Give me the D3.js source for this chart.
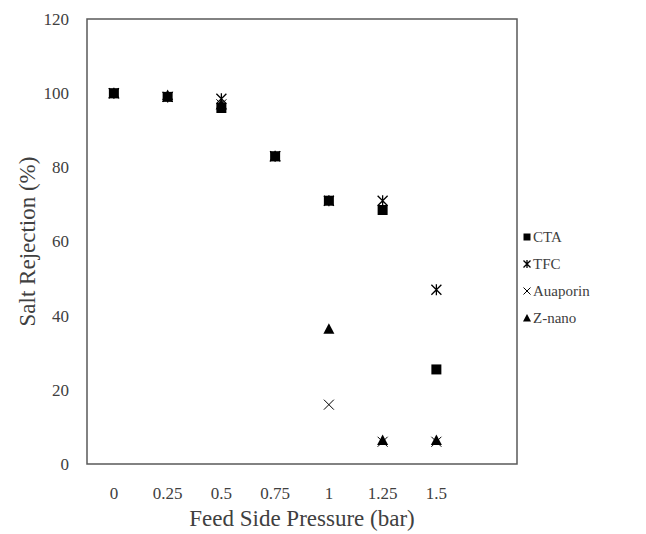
<!DOCTYPE html>
<html>
<head>
<meta charset="utf-8">
<script src="https://cdn.jsdelivr.net/npm/d3@7"></script>
<style>
  body { margin: 0; background: #fff; }
  svg { font-family: "Liberation Serif", "Times New Roman", serif; }
</style>
</head>
<body>
<div id="chart"></div>
<script>
// categories on the x axis (last slot is empty, like the Excel plot)
const pressures = ['0', '0.25', '0.5', '0.75', '1', '1.25', '1.5', ''];
const yTicks = [0, 20, 40, 60, 80, 100, 120];

const seriesNames = ['CTA', 'TFC', 'Auaporin', 'Z-nano'];
const ctaValues = [100, 99, 96, 83, 71, 68.5, 25.5];
const tfcValues = [100, 99, 98.5, 83, 71, 71, 47];
const auaporinValues = [100, 99, 97, 83, 16, 6, 6];
const znanoValues = [100, 99.5, 97, 83, 36.5, 6.5, 6.5];

const width = 646, height = 534;
const margin = {top: 19, right: 129, bottom: 70, left: 87};
const plotW = width - margin.left - margin.right;
const plotH = height - margin.top - margin.bottom;

const svg = d3.select('#chart').append('svg')
    .attr('width', width)
    .attr('height', height);

const g = svg.append('g')
    .attr('transform', 'translate(' + margin.left + ',' + margin.top + ')');

const xScale = d3.scaleBand().domain(pressures).range([0, plotW]);
const yScale = d3.scaleLinear().domain([0, 120]).range([plotH, 0]);

// marker shapes, drawn around (0,0)
function markerPath(type, s) {
    const h = s / 2;
    const p = d3.path();
    if (type === 'square') {
        p.rect(-h, -h, s, s);
    } else if (type === 'triangle') {
        p.moveTo(0, -h - 0.5); p.lineTo(h + 0.5, h); p.lineTo(-h - 0.5, h); p.closePath();
    } else if (type === 'star') {
        p.moveTo(-h, -h); p.lineTo(h, h);
        p.moveTo(h, -h); p.lineTo(-h, h);
        p.moveTo(0, -h - 0.5); p.lineTo(0, h + 0.5);
    } else {
        p.moveTo(-h, -h); p.lineTo(h, h);
        p.moveTo(h, -h); p.lineTo(-h, h);
    }
    return p.toString();
}

const series = [
    {name: seriesNames[0], values: ctaValues, shape: 'square'},
    {name: seriesNames[1], values: tfcValues, shape: 'star'},
    {name: seriesNames[2], values: auaporinValues, shape: 'cross'},
    {name: seriesNames[3], values: znanoValues, shape: 'triangle'}
];

function styleMarker(sel, shape) {
    if (shape === 'square' || shape === 'triangle') {
        sel.attr('fill', '#000').attr('stroke', 'none');
    } else {
        sel.attr('fill', 'none').attr('stroke', '#000').attr('stroke-width', shape === 'star' ? 1.3 : 1);
    }
}

// x axis labels
const xAxisG = g.append('g')
    .attr('class', 'xAxisG')
    .attr('transform', 'translate(0,' + plotH + ')')
    .call(d3.axisBottom(xScale).tickSize(0).tickPadding(23));
xAxisG.select('.domain').remove();
xAxisG.selectAll('text')
    .attr('font-size', 17)
    .attr('font-family', '"Liberation Serif", serif')
    .attr('fill', '#404040');

// y axis labels
const yAxisG = g.append('g')
    .attr('class', 'yAxisG')
    .call(d3.axisLeft(yScale).tickValues(yTicks).tickSize(0).tickPadding(18));
yAxisG.select('.domain').remove();
yAxisG.selectAll('text')
    .attr('font-size', 17)
    .attr('font-family', '"Liberation Serif", serif')
    .attr('fill', '#404040');

// plot box
g.append('rect')
    .attr('x', 0).attr('y', 0)
    .attr('width', plotW).attr('height', plotH)
    .attr('fill', 'none')
    .attr('stroke', '#595959')
    .attr('stroke-width', 1.5);

// points
series.forEach(s => {
    g.selectAll('.dot-' + s.shape)
        .data(s.values)
        .join('path')
        .attr('class', 'dot-' + s.shape)
        .attr('transform', (v, i) => 'translate(' + (xScale(pressures[i]) + xScale.bandwidth() / 2) + ',' + yScale(v) + ')')
        .attr('d', markerPath(s.shape, 10))
        .call(styleMarker, s.shape);
});

// axis titles
svg.append('text')
    .attr('x', margin.left + plotW / 2)
    .attr('y', 526)
    .attr('text-anchor', 'middle')
    .attr('font-size', 23)
    .attr('fill', '#404040')
    .text('Feed Side Pressure (bar)');

svg.append('text')
    .attr('transform', 'translate(35,' + (margin.top + plotH / 2) + ') rotate(-90)')
    .attr('text-anchor', 'middle')
    .attr('font-size', 23)
    .attr('fill', '#404040')
    .text('Salt Rejection (%)');

// legend
const legend = svg.append('g')
    .attr('transform', 'translate(527,237)');
const item = legend.selectAll('.legendItem')
    .data(series)
    .join('g')
    .attr('class', 'legendItem')
    .attr('transform', (d, i) => 'translate(0,' + (i * 27) + ')');
item.append('path')
    .attr('d', d => markerPath(d.shape, 7))
    .each(function(d) { d3.select(this).call(styleMarker, d.shape); });
item.append('text')
    .attr('x', 6)
    .attr('dy', '0.35em')
    .attr('font-size', 15)
    .attr('fill', '#404040')
    .text(d => d.name);
</script>
</body>
</html>
